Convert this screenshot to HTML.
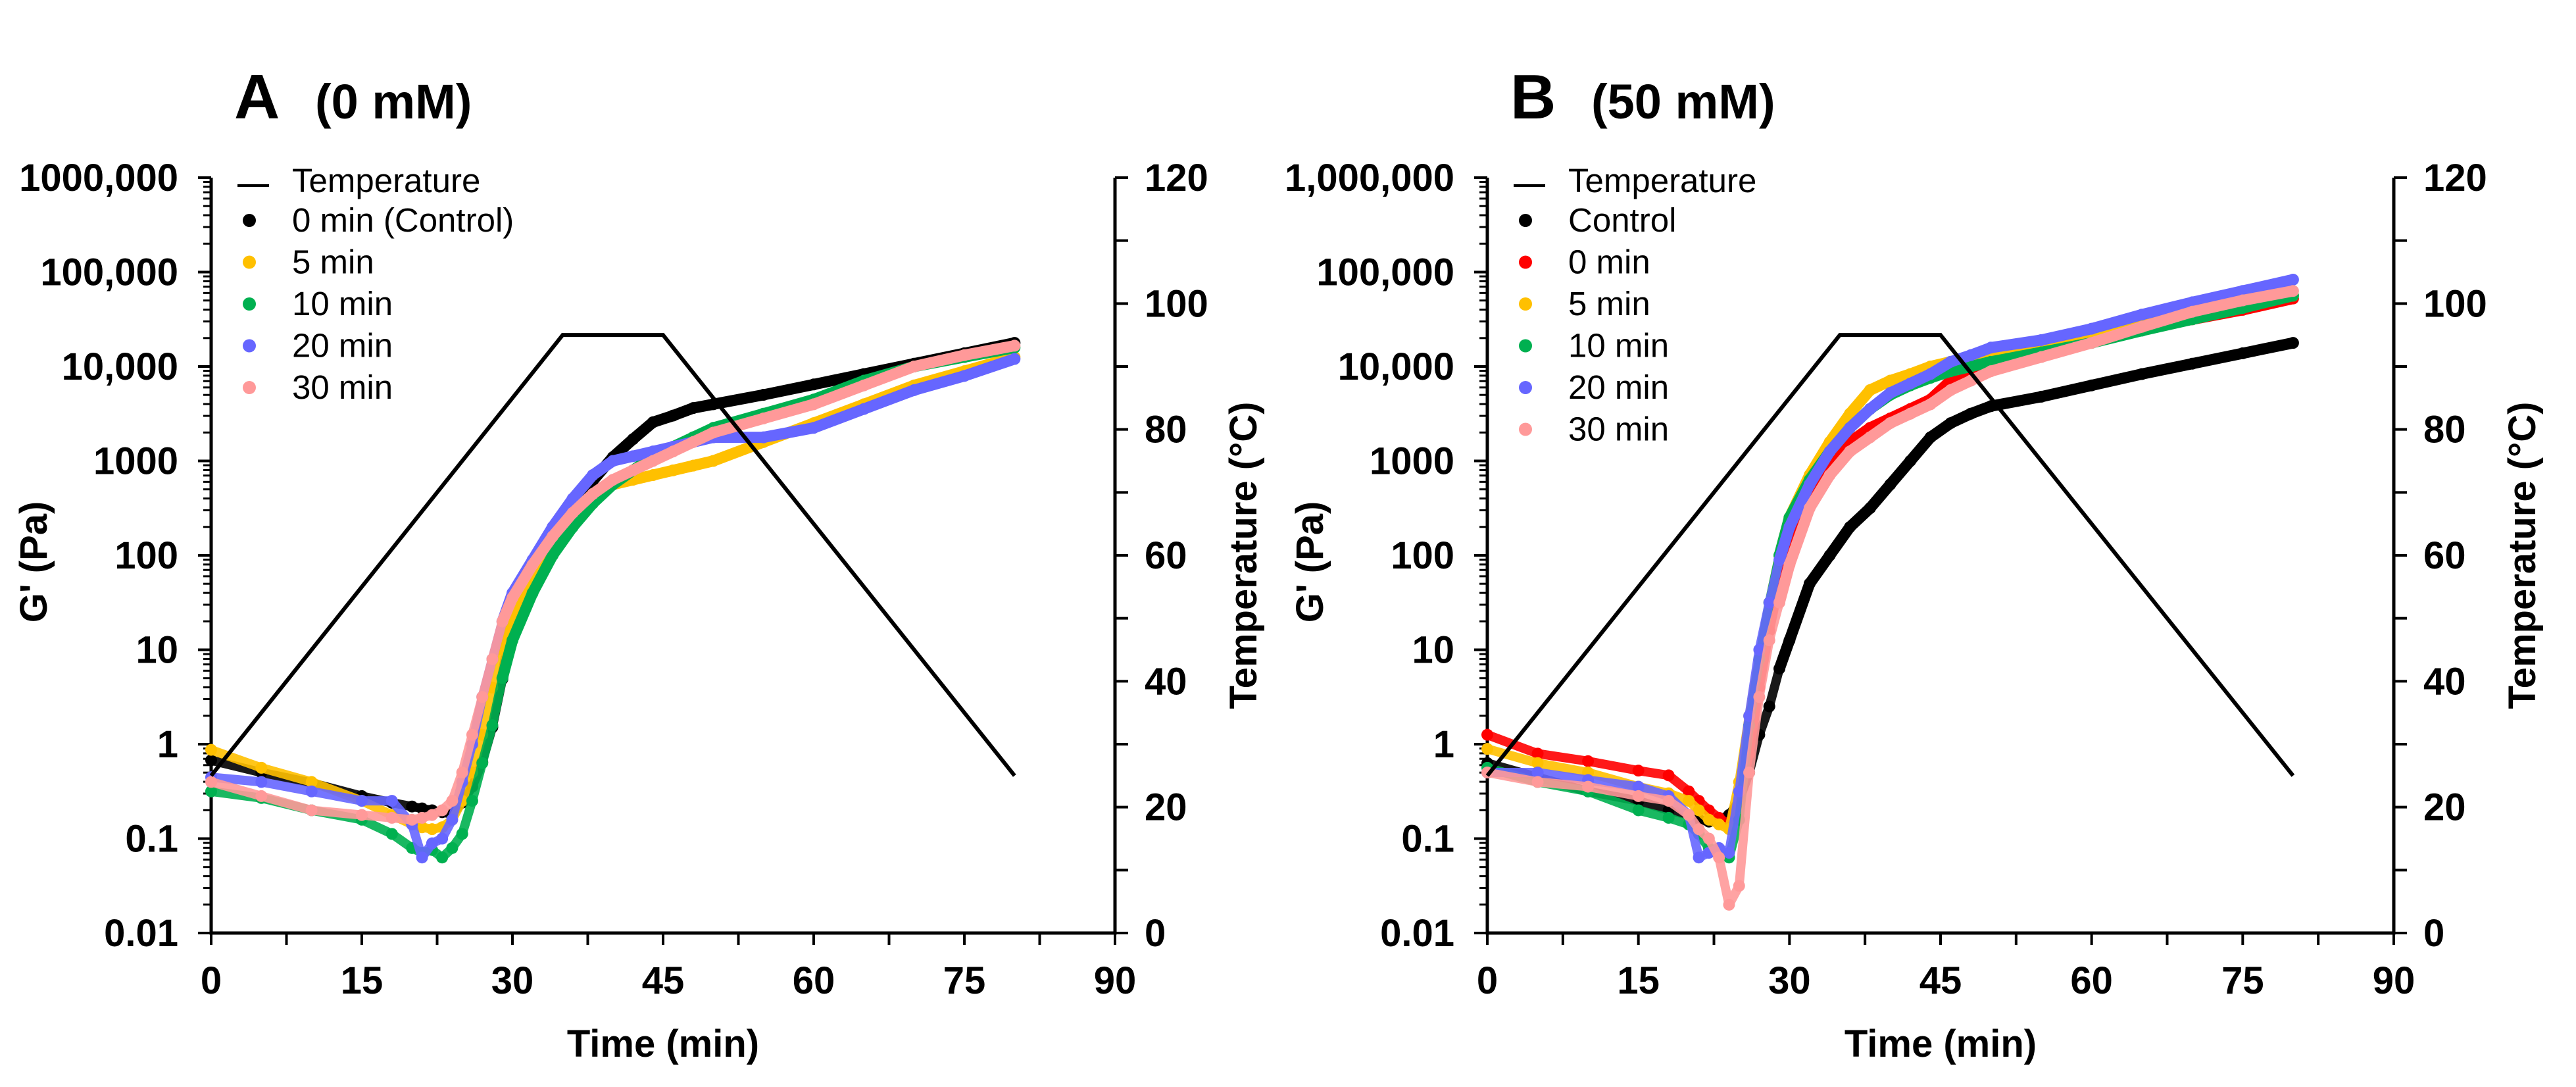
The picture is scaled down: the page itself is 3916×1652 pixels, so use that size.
<!DOCTYPE html>
<html><head><meta charset="utf-8"><style>
html,body{margin:0;padding:0;background:#fff;}
svg{display:block;font-family:"Liberation Sans",Arial,sans-serif;}
</style></head><body>
<svg id="root" width="3916" height="1652" viewBox="0 0 3916 1652" xmlns="http://www.w3.org/2000/svg"></svg>
<script>
// ---- data (log10 of G' in Pa) ----
const times = [0,5,10,15,18,20,21,22,23,24,25,26,27,28,29,30,32,34,36,38,40,42,44,46,48,50,55,60,65,70,75,80];
// Panel A
const aControl = [-0.17,-0.30,-0.41,-0.55,-0.62,-0.66,-0.68,-0.70,-0.72,-0.74,-0.62,-0.45,-0.19,0.18,0.69,1.28,1.72,2.20,2.53,2.79,3.04,3.23,3.41,3.48,3.56,3.60,3.70,3.81,3.92,4.03,4.14,4.25];
const a5 = [-0.06,-0.25,-0.40,-0.60,-0.75,-0.85,-0.88,-0.90,-0.88,-0.80,-0.60,-0.30,0.10,0.60,1.00,1.40,1.80,2.20,2.45,2.65,2.75,2.80,2.85,2.90,2.95,3.00,3.20,3.40,3.60,3.80,3.95,4.10];
const a10 = [-0.50,-0.57,-0.70,-0.80,-0.95,-1.10,-1.15,-1.12,-1.20,-1.10,-0.95,-0.60,-0.20,0.20,0.70,1.10,1.60,2.00,2.30,2.55,2.75,2.90,3.05,3.15,3.25,3.35,3.50,3.65,3.85,4.00,4.10,4.20];
const a20 = [-0.35,-0.40,-0.50,-0.60,-0.60,-0.85,-1.20,-1.05,-1.00,-0.80,-0.40,0.00,0.50,0.90,1.30,1.60,1.95,2.30,2.60,2.85,3.00,3.05,3.10,3.15,3.20,3.25,3.25,3.35,3.55,3.75,3.90,4.08];
const a30 = [-0.40,-0.55,-0.70,-0.75,-0.78,-0.80,-0.78,-0.75,-0.70,-0.60,-0.30,0.10,0.50,0.90,1.30,1.55,1.90,2.20,2.45,2.65,2.80,2.90,3.00,3.10,3.20,3.30,3.45,3.60,3.80,4.00,4.12,4.22];
// Panel B
const bControl = [-0.20,-0.35,-0.50,-0.60,-0.70,-0.75,-0.80,-0.82,-0.80,-0.75,-0.60,-0.30,0.10,0.40,0.80,1.10,1.70,2.00,2.30,2.50,2.75,3.00,3.25,3.40,3.50,3.58,3.68,3.80,3.92,4.03,4.14,4.25];
const b0 = [0.10,-0.10,-0.18,-0.28,-0.33,-0.50,-0.60,-0.70,-0.78,-0.85,-0.60,-0.10,0.60,1.20,1.70,2.10,2.60,3.00,3.20,3.35,3.45,3.55,3.65,3.85,3.95,4.05,4.15,4.30,4.40,4.50,4.60,4.72];
const b5 = [-0.05,-0.20,-0.30,-0.45,-0.52,-0.60,-0.70,-0.80,-0.85,-0.90,-0.40,0.30,0.90,1.50,2.00,2.40,2.85,3.20,3.50,3.75,3.85,3.92,4.00,4.05,4.10,4.15,4.25,4.35,4.45,4.55,4.65,4.75];
const b10 = [-0.25,-0.40,-0.50,-0.70,-0.78,-0.85,-0.95,-1.10,-1.15,-1.20,-0.80,0.20,0.90,1.50,2.00,2.40,2.80,3.10,3.35,3.55,3.70,3.80,3.88,3.95,4.00,4.05,4.15,4.25,4.38,4.50,4.62,4.75];
const b20 = [-0.30,-0.30,-0.38,-0.45,-0.55,-0.75,-1.20,-1.15,-1.10,-1.15,-0.50,0.30,1.00,1.50,1.95,2.30,2.75,3.10,3.35,3.55,3.72,3.82,3.92,4.05,4.12,4.20,4.28,4.40,4.55,4.68,4.80,4.92];
const b30 = [-0.30,-0.40,-0.45,-0.55,-0.60,-0.75,-0.90,-1.00,-1.20,-1.70,-1.50,-0.30,0.50,1.10,1.50,1.90,2.50,2.85,3.10,3.25,3.40,3.50,3.60,3.75,3.85,3.95,4.10,4.25,4.42,4.58,4.70,4.80];
// Temperature profile
const tempTimes = [0,35,45,80];
const tempValues = [25,95,95,25];
const xTicks = [0,15,30,45,60,75,90];
const leftTicksA = ["0.01","0.1","1","10","100","1000","10,000","100,000","1000,000"];
const leftTicksB = ["0.01","0.1","1","10","100","1000","10,000","100,000","1,000,000"];
const rightTicks = [0,20,40,60,80,100,120];
const namesA = ["0 min (Control)","5 min","10 min","20 min","30 min"];
const namesB = ["Control","0 min","5 min","10 min","20 min","30 min"];
const colorsA = ["#000000","#FFC000","#00B050","#6666FF","#FF9999"];
const colorsB = ["#000000","#FF0000","#FFC000","#00B050","#6666FF","#FF9999"];

const NS="http://www.w3.org/2000/svg";
const root=document.getElementById('root');
function mk(tag,attrs,parent){const e=document.createElementNS(NS,tag);for(const k in attrs)e.setAttribute(k,attrs[k]);(parent||root).appendChild(e);return e;}

function panel(cfg){
  const g=mk('g',{});
  
  
  const X0=cfg.x0,X1=cfg.x1,YT=270,YB=1418;
  const xs=t=>X0+(t/90)*(X1-X0);
  const ys=lg=>YB-(lg+2)/8*(YB-YT);
  const yt=T=>YB-T/120*(YB-YT);
  const tl=mk('text',{x:cfg.titleX,y:180,'font-size':96,'font-weight':'bold'},g);tl.textContent=cfg.letter;
  
  
  const ts=mk('text',{x:cfg.titleX+123,y:180,'font-size':74,'font-weight':'bold'},g);ts.textContent=cfg.sub;
  
  
  const ax=mk('path',{d:`M${X0},${YT}V${YB}H${X1}V${YT}`,fill:'none',stroke:'#000','stroke-width':5},g);
  
  
  for(let d=0;d<8;d++){
    for(let m=2;m<=9;m++){const y=ys(d-2+Math.log10(m));mk('line',{x1:X0-12,x2:X0,y1:y,y2:y,stroke:'#000','stroke-width':3},g);}
  }
  cfg.leftLabels.forEach((lab,i)=>{
    const y=ys(i-2);
    mk('line',{x1:X0-20,x2:X0,y1:y,y2:y,stroke:'#000','stroke-width':4},g);
    const t=mk('text',{x:X0-50,y:y+20,'font-size':58,'font-weight':'bold','text-anchor':'end'},g);t.textContent=lab;
    
    
  });
  for(let t=0;t<=90;t+=7.5){const x=xs(t);mk('line',{x1:x,x2:x,y1:YB,y2:YB+18,stroke:'#000','stroke-width':4},g);}
  xTicks.forEach(v=>{
    const t=mk('text',{x:xs(v),y:YB+92,'font-size':58,'font-weight':'bold','text-anchor':'middle'},g);t.textContent=v;
    
    
  });
  for(let T=0;T<=120;T+=10){const y=yt(T);mk('line',{x1:X1,x2:X1+20,y1:y,y2:y,stroke:'#000','stroke-width':4},g);}
  rightTicks.forEach(v=>{
    const t=mk('text',{x:X1+45,y:yt(v)+20,'font-size':58,'font-weight':'bold'},g);t.textContent=v;
    
    
  });
  const xt=mk('text',{x:(X0+X1)/2,y:1606,'font-size':58,'font-weight':'bold','text-anchor':'middle'},g);xt.textContent='Time (min)';
  
  
  const yl=mk('text',{x:0,y:0,'font-size':58,'font-weight':'bold','text-anchor':'middle',transform:`translate(${X0-250},${(YT+YB)/2+10}) rotate(-90)`},g);yl.textContent="G' (Pa)";
  
  
  const yr=mk('text',{x:0,y:0,'font-size':58,'font-weight':'bold','text-anchor':'middle',transform:`translate(${X1+215},${(YT+YB)/2}) rotate(-90)`},g);yr.textContent='Temperature (°C)';
  
  
  cfg.series.forEach((s,i)=>{
    const sg=mk('g',{},g);
    
    
    const pts=times.map((t,k)=>xs(t)+','+ys(s[k])).join(' ');
    const late=times.map((t,k)=>[t,s[k]]).filter(p=>p[0]>=29).map(p=>xs(p[0])+','+ys(p[1])).join(' ');
    mk('polyline',{points:pts,fill:'none',stroke:cfg.colors[i],'stroke-width':14,'stroke-linejoin':'round','stroke-linecap':'round',opacity:0.9},sg);
    mk('polyline',{points:late,fill:'none',stroke:cfg.colors[i],'stroke-width':17,'stroke-linejoin':'round','stroke-linecap':'round'},sg);
    times.forEach((t,k)=>{
      const c=mk('circle',{cx:xs(t),cy:ys(s[k]),r:9,fill:cfg.colors[i]},sg);
      
      
    });
  });
  const tp=mk('polyline',{points:tempTimes.map((t,k)=>xs(t)+','+yt(tempValues[k])).join(' '),fill:'none',stroke:'#000','stroke-width':6},g);
  
  
  const lg=mk('g',{},g);
  
  
  const LX=X0+123;
  mk('line',{x1:X0+40,x2:X0+88,y1:282,y2:282,stroke:'#000','stroke-width':4},lg);
  const lt=mk('text',{x:LX,y:292,'font-size':51},lg);lt.textContent='Temperature';
  
  
  cfg.names.forEach((n,i)=>{
    const y=352+i*63.5;
    mk('circle',{cx:X0+58,cy:y-17,r:10,fill:cfg.colors[i]},lg);
    const t=mk('text',{x:LX,y:y,'font-size':51},lg);t.textContent=n;
    
    
  });
}
panel({id:'panel-a',letter:'A',sub:'(0 mM)',titleX:356,x0:321,x1:1695,leftLabels:leftTicksA,names:namesA,colors:colorsA,series:[aControl,a5,a10,a20,a30]});
panel({id:'panel-b',letter:'B',sub:'(50 mM)',titleX:2296,x0:2261,x1:3639,leftLabels:leftTicksB,names:namesB,colors:colorsB,series:[bControl,b0,b5,b10,b20,b30]});
</script>
</body></html>
